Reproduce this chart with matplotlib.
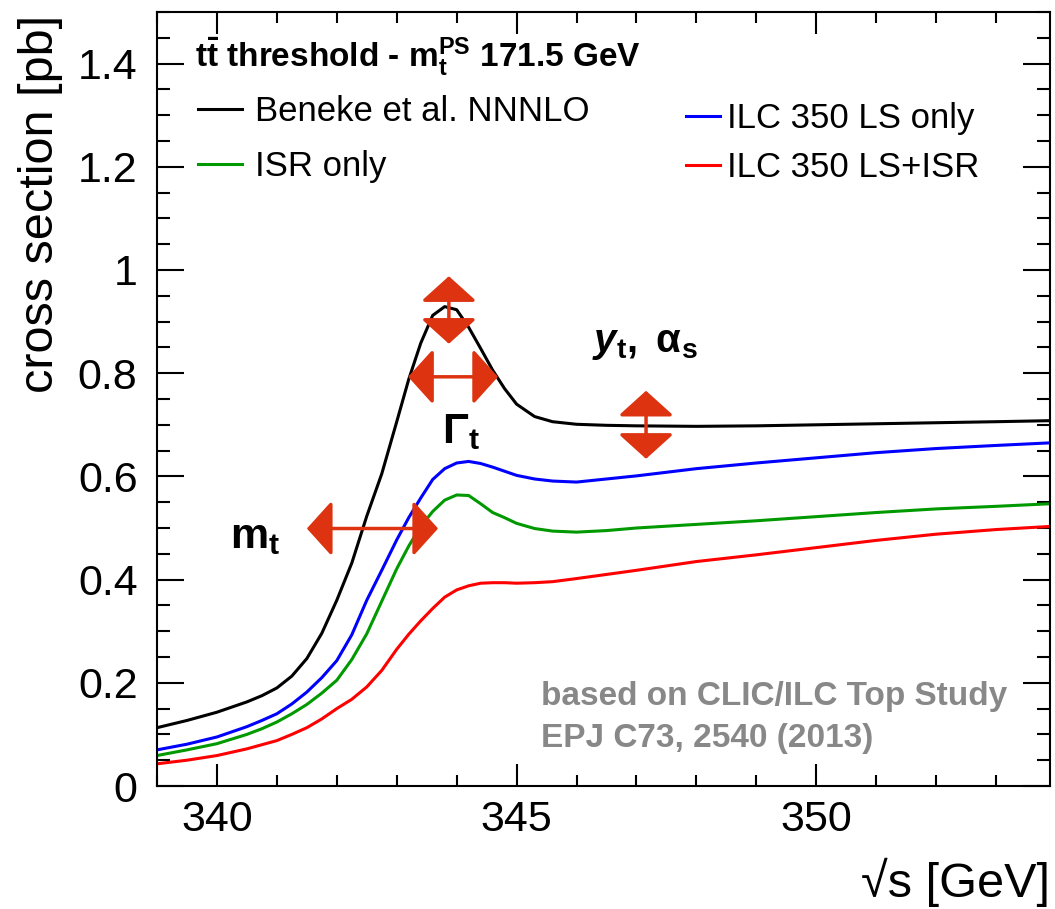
import matplotlib
matplotlib.use("Agg")
import matplotlib.pyplot as plt
from matplotlib.patches import FancyArrowPatch
from matplotlib.ticker import MultipleLocator, FuncFormatter

plt.rcParams["font.family"] = ["Liberation Sans", "DejaVu Sans"]
plt.rcParams["mathtext.fontset"] = "custom"
plt.rcParams["mathtext.rm"] = "Liberation Sans"
plt.rcParams["mathtext.it"] = "Liberation Sans:italic"
plt.rcParams["mathtext.bf"] = "Liberation Sans:bold"
plt.rcParams["mathtext.bfit"] = "Liberation Sans:italic:bold"

# sqrt(s) scan points (GeV) and cross sections (pb)
energy = [339.0, 339.5, 340.0, 340.5, 340.75, 341.0, 341.25, 341.5, 341.75, 342.0,
          342.25, 342.5, 342.75, 343.0, 343.2, 343.4, 343.6, 343.8, 344.0, 344.2,
          344.4, 344.6, 344.8, 345.0, 345.3, 345.6, 346.0, 346.5, 347.0, 348.0,
          349.0, 350.0, 351.0, 352.0, 353.0, 353.9]

sigma_nnnlo = [0.113, 0.127, 0.143, 0.163, 0.175, 0.190, 0.213, 0.247, 0.296, 0.360,
               0.432, 0.523, 0.605, 0.706, 0.788, 0.858, 0.912, 0.929, 0.923, 0.889,
               0.848, 0.806, 0.770, 0.740, 0.716, 0.706, 0.701, 0.699, 0.698, 0.697,
               0.698, 0.700, 0.702, 0.704, 0.706, 0.708]

sigma_ls = [0.070, 0.081, 0.095, 0.115, 0.127, 0.140, 0.159, 0.182, 0.210, 0.243,
            0.293, 0.360, 0.418, 0.477, 0.520, 0.558, 0.594, 0.615, 0.626, 0.629,
            0.625, 0.618, 0.610, 0.602, 0.595, 0.591, 0.589, 0.595, 0.601, 0.615,
            0.626, 0.636, 0.646, 0.654, 0.660, 0.665]

sigma_isr = [0.059, 0.070, 0.082, 0.100, 0.111, 0.124, 0.140, 0.158, 0.180, 0.205,
             0.245, 0.295, 0.358, 0.421, 0.465, 0.503, 0.532, 0.554, 0.564, 0.563,
             0.547, 0.530, 0.520, 0.509, 0.499, 0.494, 0.492, 0.495, 0.500, 0.507,
             0.514, 0.522, 0.530, 0.537, 0.542, 0.547]

sigma_ls_isr = [0.043, 0.050, 0.059, 0.072, 0.080, 0.088, 0.100, 0.113, 0.130, 0.150,
                0.168, 0.192, 0.224, 0.265, 0.294, 0.320, 0.344, 0.366, 0.380, 0.388,
                0.393, 0.394, 0.394, 0.393, 0.394, 0.396, 0.402, 0.410, 0.418, 0.435,
                0.448, 0.462, 0.476, 0.488, 0.497, 0.503]

labels = ["Beneke et al. NNNLO", "ISR only", "ILC 350 LS only", "ILC 350 LS+ISR"]
colors = ["black", "#009900", "#0000ff", "#ff0000"]

# hand-drawn style double arrows (data coords): start, end
arrows = [
    ((343.87, 0.857), (343.87, 0.988)),
    ((343.19, 0.793), (344.69, 0.793)),
    ((341.50, 0.499), (343.69, 0.499)),
    ((347.16, 0.634), (347.16, 0.766)),
]
ARROW_COLOR = "#dd3311"

fig = plt.figure(figsize=(10.55, 9.09), dpi=100)
ax = fig.add_axes([157 / 1055, 123 / 909, 893 / 1055, 774 / 909])

h_black, = ax.plot(energy, sigma_nnnlo, color=colors[0], lw=2.2, label=labels[0])
h_green, = ax.plot(energy, sigma_isr, color=colors[1], lw=2.2, label=labels[1])
h_blue, = ax.plot(energy, sigma_ls, color=colors[2], lw=2.2, label=labels[2])
h_red, = ax.plot(energy, sigma_ls_isr, color=colors[3], lw=2.2, label=labels[3])

ax.set_xlim(339.0, 353.9)
ax.set_ylim(0, 1.5)
ax.xaxis.set_major_locator(MultipleLocator(5))
ax.xaxis.set_minor_locator(MultipleLocator(1))
ax.yaxis.set_major_locator(MultipleLocator(0.2))
ax.yaxis.set_minor_locator(MultipleLocator(0.05))
ax.yaxis.set_major_formatter(FuncFormatter(lambda v, p: f"{v:g}"))

ax.tick_params(which="both", direction="in", top=True, right=True, width=1.5)
ax.tick_params(axis="x", which="major", length=16, pad=10, labelsize=31)
ax.tick_params(axis="x", which="minor", length=8)
ax.tick_params(axis="y", which="major", length=19.5, pad=14, labelsize=31)
ax.tick_params(axis="y", which="minor", length=9.5)
for s in ax.spines.values():
    s.set_linewidth(1.5)

ax.set_ylabel("cross section [pb]", fontsize=35, loc="top")
ax.yaxis.set_label_coords(-0.105, 0.996)
ax.set_xlabel("\u221as [GeV]", fontsize=35, loc="right")
ax.xaxis.set_label_coords(1.0, -0.093)

leg1 = ax.legend(handles=[h_black, h_green], loc="upper left",
                 bbox_to_anchor=(0.046, 0.893), frameon=False, fontsize=25,
                 handlelength=1.27, handletextpad=0.37, labelspacing=0.63,
                 borderpad=0, borderaxespad=0)
ax.add_artist(leg1)
ax.legend(handles=[h_blue, h_red], loc="upper left",
          bbox_to_anchor=(0.592, 0.884), frameon=False, fontsize=25,
          handlelength=1.0, handletextpad=0.2, labelspacing=0.46,
          borderpad=0, borderaxespad=0)

ax.text(0.0426, 0.929, r"$\mathbf{t\bar{t}}$ threshold - $\mathbf{m_t^{PS}}$ 171.5 GeV",
        transform=ax.transAxes, fontsize=24, fontweight="bold", va="baseline")

ax.text(0.430, 0.1047, "based on CLIC/ILC Top Study", transform=ax.transAxes,
        fontsize=24, fontweight="bold", color="#888888", va="baseline")
ax.text(0.430, 0.0504, "EPJ C73, 2540 (2013)", transform=ax.transAxes,
        fontsize=24, fontweight="bold", color="#888888", va="baseline")

ax.text(0.0817, 0.3075, r"$\mathbf{m_t}$", transform=ax.transAxes, fontsize=31,
        va="baseline")
ax.text(0.319, 0.443, r"$\mathbf{\Gamma_t}$", transform=ax.transAxes, fontsize=31,
        va="baseline")
ax.text(0.487, 0.561, r"$\mathbfit{y}_\mathbf{t}\mathbf{,\ \alpha_s}$",
        transform=ax.transAxes, fontsize=29, va="baseline")

for start, end in arrows:
    arr = FancyArrowPatch(start, end, arrowstyle="<|-|>,head_length=0.65,head_width=0.72",
                          mutation_scale=24, lw=2.5, color=ARROW_COLOR,
                          shrinkA=0, shrinkB=0, zorder=5, joinstyle="round")
    ax.add_patch(arr)

fig.savefig("out.png", dpi=100)
